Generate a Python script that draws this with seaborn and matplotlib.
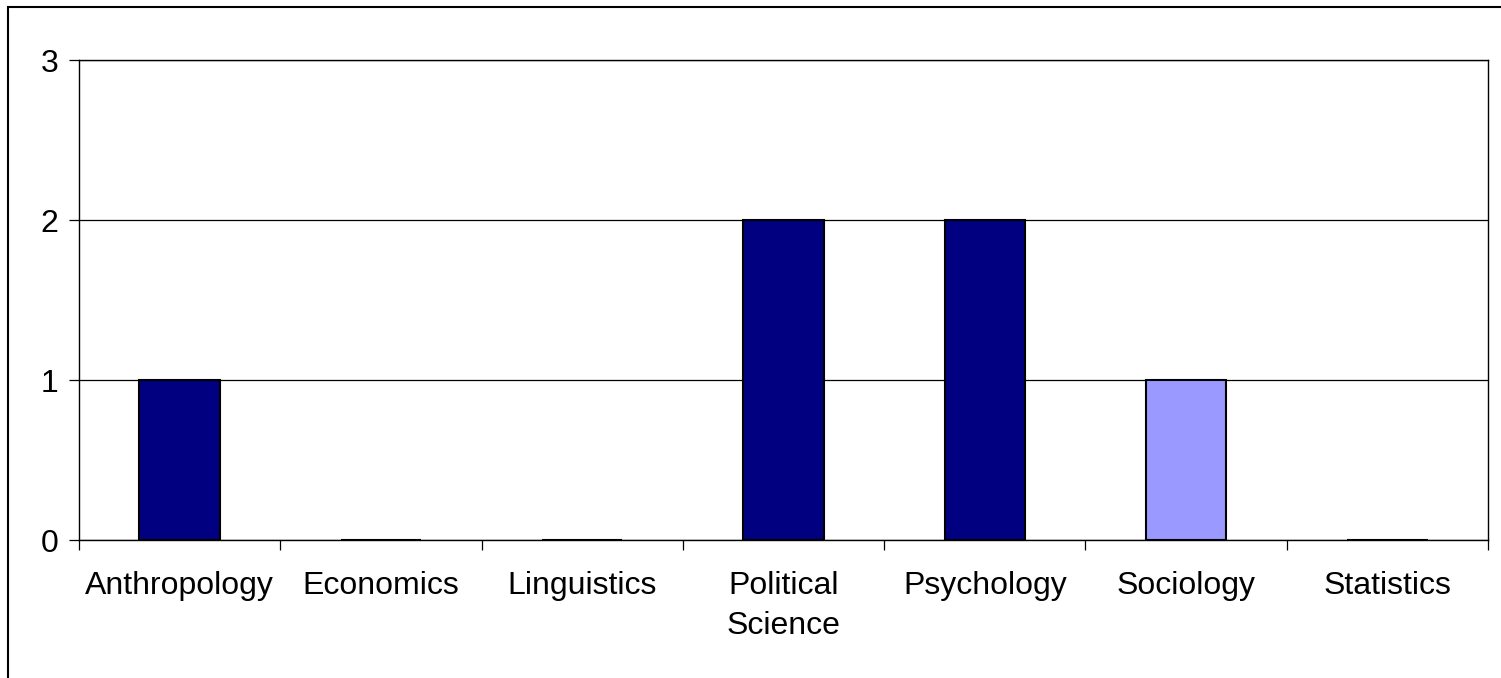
import matplotlib.pyplot as plt
import pandas as pd
import seaborn as sns
from matplotlib.patches import Rectangle

# Data
departments = ['Anthropology', 'Economics', 'Linguistics', 'Political\nScience',
               'Psychology', 'Sociology', 'Statistics']
counts = [1, 0, 0, 2, 2, 1, 0]
bar_colors = ['#000080', '#000080', '#000080', '#000080', '#000080', '#9999FF', '#000080']
y_ticks = [0, 1, 2, 3]

df = pd.DataFrame({'dept': departments, 'count': counts})

sns.set_style('white')
plt.rcParams['font.family'] = ['Liberation Sans', 'DejaVu Sans']
plt.rcParams['text.color'] = 'black'
plt.rcParams['xtick.color'] = 'black'
plt.rcParams['ytick.color'] = 'black'

fig = plt.figure(figsize=(15.01, 6.78), dpi=100)
ax = fig.add_axes([79 / 1501, 1 - 540 / 678, (1488 - 79) / 1501, (540 - 60) / 678])

sns.barplot(data=df, x='dept', y='count', hue='dept', palette=bar_colors,
            saturation=1, legend=False, width=0.4, edgecolor='black',
            linewidth=1.5, ax=ax, zorder=3)

ax.set_ylim(0, 3)
ax.set_xlim(-0.5, len(departments) - 0.5)
ax.set_yticks(y_ticks)
ax.set_yticklabels([str(t) for t in y_ticks], fontsize=23)
ax.yaxis.grid(True, color='black', linewidth=0.9, zorder=0)
ax.set_axisbelow(True)

# labels centered under bars, tick marks on category boundaries
ax.set_xticks(range(len(departments)))
ax.set_xticklabels(departments, fontsize=23, linespacing=1.45)
ax.set_xticks([i - 0.5 for i in range(len(departments) + 1)], minor=True)
ax.tick_params(axis='x', which='major', bottom=True, length=0, pad=22)
ax.tick_params(axis='x', which='minor', bottom=True, length=7, width=0.9,
               direction='out', color='black')
ax.tick_params(axis='y', left=True, length=7, width=0.9, direction='out',
               color='black', pad=8)
ax.set_xlabel('')
ax.set_ylabel('')

for side in ['left', 'right', 'top', 'bottom']:
    ax.spines[side].set_visible(True)
    ax.spines[side].set_color('black')
    ax.spines[side].set_linewidth(1.0)

# outer chart frame
fig.add_artist(Rectangle((8 / 1501, -0.1), 1.2, 1 - 7 / 678 + 0.1,
                         transform=fig.transFigure, fill=False,
                         edgecolor='black', linewidth=1.5, clip_on=False))

fig.savefig('out.png', dpi=100)
